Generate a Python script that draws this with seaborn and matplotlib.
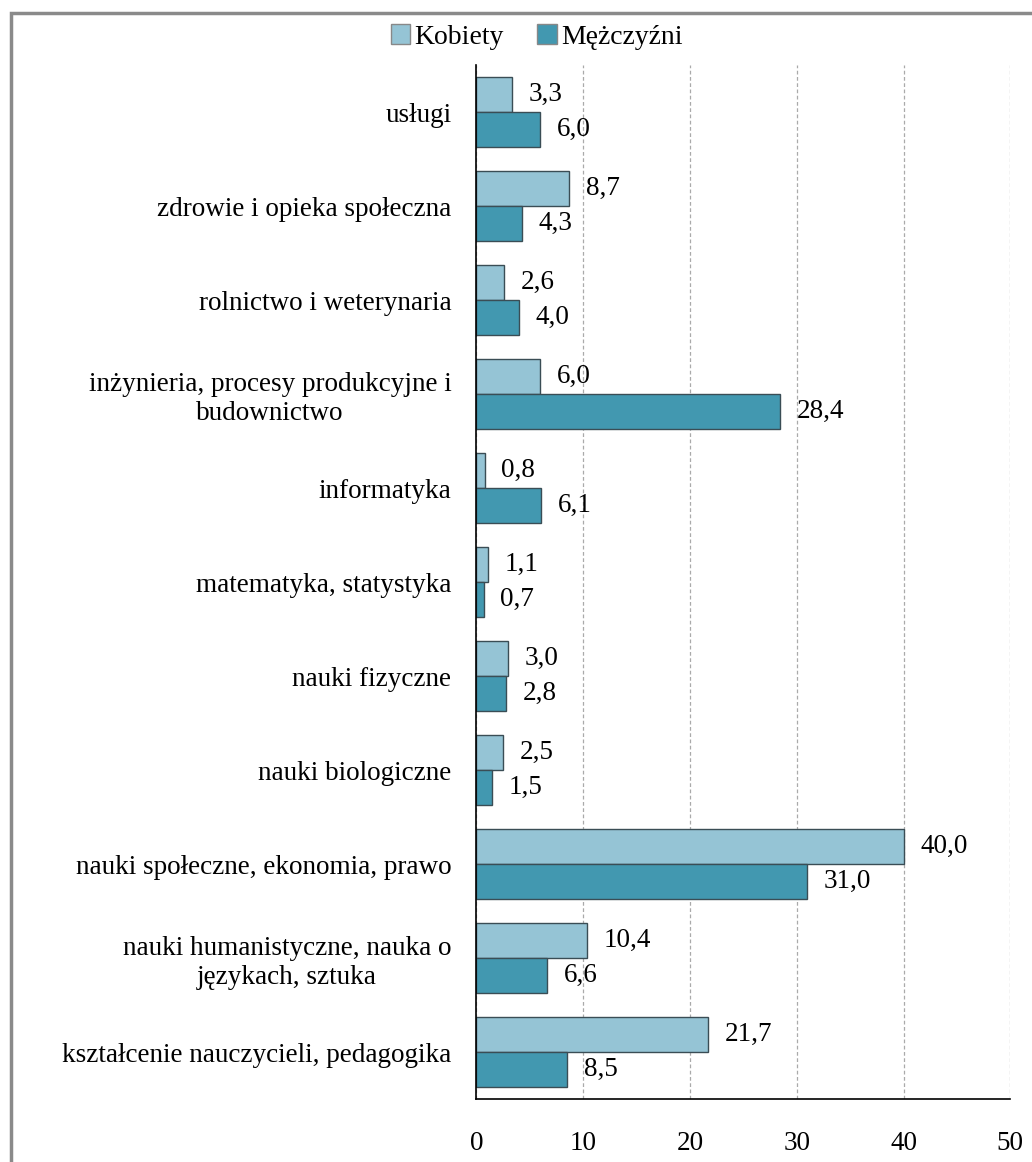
import pandas as pd
import matplotlib.pyplot as plt
import matplotlib.patches as mpatches
import seaborn as sns

CATEGORIES = [
    "usługi",
    "zdrowie i opieka społeczna",
    "rolnictwo i weterynaria",
    "inżynieria, procesy produkcyjne i\nbudownictwo",
    "informatyka",
    "matematyka, statystyka",
    "nauki fizyczne",
    "nauki biologiczne",
    "nauki społeczne, ekonomia, prawo",
    "nauki humanistyczne, nauka o\njęzykach, sztuka",
    "kształcenie nauczycieli, pedagogika",
]
KOBIETY = [3.3, 8.7, 2.6, 6.0, 0.8, 1.1, 3.0, 2.5, 40.0, 10.4, 21.7]
MEZCZYZNI = [6.0, 4.3, 4.0, 28.4, 6.1, 0.7, 2.8, 1.5, 31.0, 6.6, 8.5]
SERIES = ["Kobiety", "Mężczyźni"]
COLORS = ["#95C4D5", "#4298B0"]
X_TICKS = [0, 10, 20, 30, 40, 50]

df = pd.DataFrame({
    "kategoria": CATEGORIES * 2,
    "wartosc": KOBIETY + MEZCZYZNI,
    "plec": [SERIES[0]] * len(CATEGORIES) + [SERIES[1]] * len(CATEGORIES),
})

sns.set_style("white")
plt.rcParams["font.family"] = ["Liberation Serif", "DejaVu Serif"]
plt.rcParams["text.color"] = "black"
plt.rcParams["xtick.labelcolor"] = "black"
plt.rcParams["ytick.labelcolor"] = "black"
FS = 19.5

fig = plt.figure(figsize=(10.32, 11.62), dpi=100)
ax = fig.add_axes([0.4615, 0.054, 0.979 - 0.4615, 0.944 - 0.054])

sns.barplot(
    data=df, y="kategoria", x="wartosc", hue="plec",
    order=CATEGORIES, hue_order=SERIES, palette=COLORS,
    width=0.745, edgecolor="#3a4d55", linewidth=1.0,
    saturation=1, errorbar=None, ax=ax, legend=False,
)

for cont in ax.containers:
    labels = [f"{b.get_width():.1f}".replace(".", ",") for b in cont]
    ax.bar_label(cont, labels=labels, padding=12, fontsize=FS, color="black")

ax.set_xlim(0, 50)
ax.set_ylim(len(CATEGORIES) - 0.5, -0.5)
ax.set_xticks(X_TICKS)
ax.set_xticklabels([str(t) for t in X_TICKS], fontsize=FS)
ax.tick_params(axis="x", length=7, color="#999999", pad=16)
ax.tick_params(axis="y", length=0, pad=18, labelsize=FS)
for lab in ax.get_yticklabels():
    lab.set_multialignment("center")
    lab.set_color("black")
ax.set_xlabel("")
ax.set_ylabel("")
ax.grid(axis="x", color="#aaaaaa", linestyle=(0, (3, 2)), linewidth=0.9)
ax.set_axisbelow(True)
for s in ["top", "right"]:
    ax.spines[s].set_visible(False)
for s in ["left", "bottom"]:
    ax.spines[s].set_color("black")
    ax.spines[s].set_linewidth(1.2)

handles = [mpatches.Patch(facecolor=c, edgecolor="#888888", linewidth=1) for c in COLORS]
fig.legend(handles, SERIES, loc="center", bbox_to_anchor=(0.52, 1 - 37 / 1162),
           ncol=2, frameon=False, fontsize=FS + 0.5, handlelength=0.7, handleheight=0.7,
           handletextpad=0.15, columnspacing=1.2)

border = mpatches.Rectangle((11 / 1032, -0.05), 1.1, 1 - 13 / 1162 + 0.05,
                            transform=fig.transFigure, fill=False,
                            edgecolor="#8a8a8a", linewidth=2.5, clip_on=False)
fig.patches.append(border)

fig.savefig("out.png", dpi=100)
